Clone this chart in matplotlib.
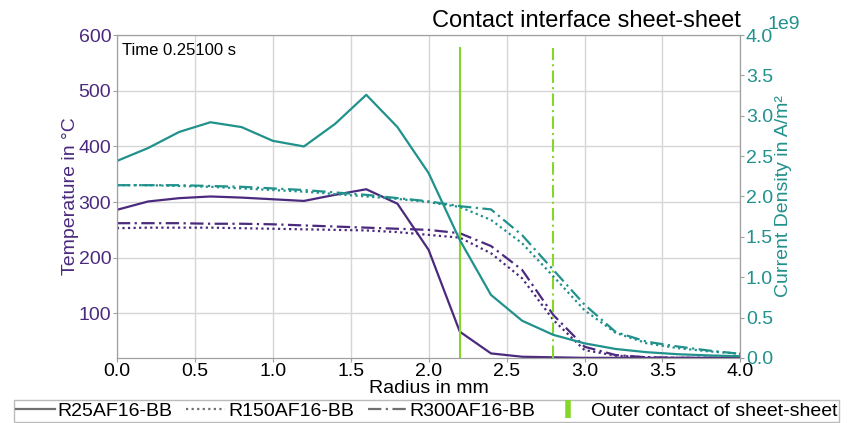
import numpy as np
import matplotlib.pyplot as plt
from matplotlib.lines import Line2D

# radius positions in mm
radius = [0.0, 0.2, 0.4, 0.6, 0.8, 1.0, 1.2, 1.4, 1.6, 1.8, 2.0,
          2.2, 2.4, 2.6, 2.8, 3.0, 3.2, 3.4, 3.6, 3.8, 4.0]

# temperature in degC
temp_r25 = [286, 301, 307, 310, 308, 305, 302, 313, 323, 297, 214,
            67, 28, 22, 21, 20, 20, 20, 20, 20, 20]
temp_r150 = [253, 254, 254, 254, 253, 252, 251, 250, 249, 246, 241,
             236, 208, 163, 88, 34, 24, 21, 20, 20, 20]
temp_r300 = [262, 262, 262, 261, 261, 260, 258, 256, 254, 252, 250,
             244, 221, 178, 97, 40, 25, 21, 20, 20, 20]

# current density in A/m^2
cd_r25 = np.array([2.44, 2.60, 2.80, 2.92, 2.86, 2.69, 2.62, 2.90, 3.26, 2.86, 2.29,
                   1.46, 0.78, 0.46, 0.285, 0.18, 0.11, 0.07, 0.045, 0.03, 0.02]) * 1e9
cd_r150 = np.array([2.14, 2.14, 2.13, 2.12, 2.10, 2.08, 2.06, 2.03, 2.00, 1.97, 1.93,
                    1.87, 1.71, 1.42, 1.01, 0.59, 0.31, 0.18, 0.12, 0.08, 0.05]) * 1e9
cd_r300 = np.array([2.14, 2.14, 2.14, 2.13, 2.12, 2.10, 2.08, 2.05, 2.02, 1.98, 1.94,
                    1.88, 1.84, 1.52, 1.09, 0.66, 0.32, 0.20, 0.14, 0.09, 0.05]) * 1e9

# outer contact radius of sheet-sheet
contact_r25 = 2.2
contact_r300 = 2.8

purple = "#4b2a7e"
teal = "#21918c"
green = "#84d62a"
grey = "#a0a0a0"
fs = 14

plt.rcParams["font.family"] = ["Liberation Sans", "DejaVu Sans"]

fig = plt.figure(figsize=(8.53, 4.23), dpi=100)
ax = fig.add_axes([0.137, 0.154, 0.731, 0.763])
ax2 = ax.twinx()

# temperature lines
ax.plot(radius, temp_r25, color=purple, lw=1.6, ls="-")
ax.plot(radius, temp_r150, color=purple, lw=1.6, ls=(0, (1, 1.5)))
ax.plot(radius, temp_r300, color=purple, lw=1.6, ls=(0, (6, 2, 1, 2)))

# current density lines
ax2.plot(radius, cd_r25, color=teal, lw=1.6, ls="-")
ax2.plot(radius, cd_r150, color=teal, lw=1.6, ls=(0, (1, 1.5)))
ax2.plot(radius, cd_r300, color=teal, lw=1.6, ls=(0, (6, 2, 1, 2)))

# outer contact markers
ax.axvline(contact_r25, ymax=0.96, color=green, lw=1.5, ls="-")
ax.axvline(contact_r300, ymax=0.96, color=green, lw=1.5, ls=(0, (6, 2, 1, 2)))

ax.set_xlim(0, 4)
ax.set_ylim(20, 600)
ax.set_xticks(np.arange(0, 4.01, 0.5))
ax.set_yticks([100, 200, 300, 400, 500, 600])
ax2.set_ylim(0, 4e9)
ax2.set_yticks(np.arange(0, 4.01e9, 0.5e9))
ax2.set_yticklabels([f"{v:.1f}" for v in np.arange(0, 4.01, 0.5)])

ax.grid(True, color="#d6d6d6", lw=1)
ax.set_axisbelow(True)

ax.set_xlabel("Radius in mm", fontsize=fs, labelpad=0)
ax.set_ylabel("Temperature in °C", fontsize=fs, color=purple, labelpad=0)
ax2.set_ylabel("Current Density in A/m²", fontsize=fs, color=teal, labelpad=1)

ax.tick_params(axis="x", labelsize=fs, colors="black", color=grey, length=3, pad=1)
ax.tick_params(axis="y", labelsize=fs, labelcolor=purple, color=grey, length=3, pad=1)
ax2.tick_params(axis="y", labelsize=fs, labelcolor=teal, color=grey, length=3, pad=1)
fig.text(768 / 853, 1 - 29 / 423, "1e9", color=teal, fontsize=fs, ha="left", va="baseline")

for a in (ax, ax2):
    for s in a.spines.values():
        s.set_color(grey)

ax.set_title("Contact interface sheet-sheet", loc="right", fontsize=17, y=1.0, pad=6)
ax.text(0.009, 0.975, "Time 0.25100 s", transform=ax.transAxes, fontsize=12,
        ha="left", va="top")

handles = [
    Line2D([], [], color="#707070", lw=1.6, ls="-"),
    Line2D([], [], color="#707070", lw=1.6, ls=(0, (1, 1.5))),
    Line2D([], [], color="#707070", lw=1.6, ls=(0, (6, 2, 1, 2))),
    Line2D([], [], color=green, ls="none", marker="|", markersize=13, markeredgewidth=4),
]
labels = ["R25AF16-BB", "R150AF16-BB", "R300AF16-BB", "Outer contact of sheet-sheet"]
fig.legend(handles, labels, loc="upper center", bbox_to_anchor=(0.5, 0.054), ncol=4,
           fontsize=fs, frameon=True, fancybox=False, edgecolor="#aaaaaa",
           handlelength=2.0, handletextpad=0.15, columnspacing=0.7, borderpad=0.1,
           borderaxespad=0)

fig.savefig("out.png", dpi=100)
